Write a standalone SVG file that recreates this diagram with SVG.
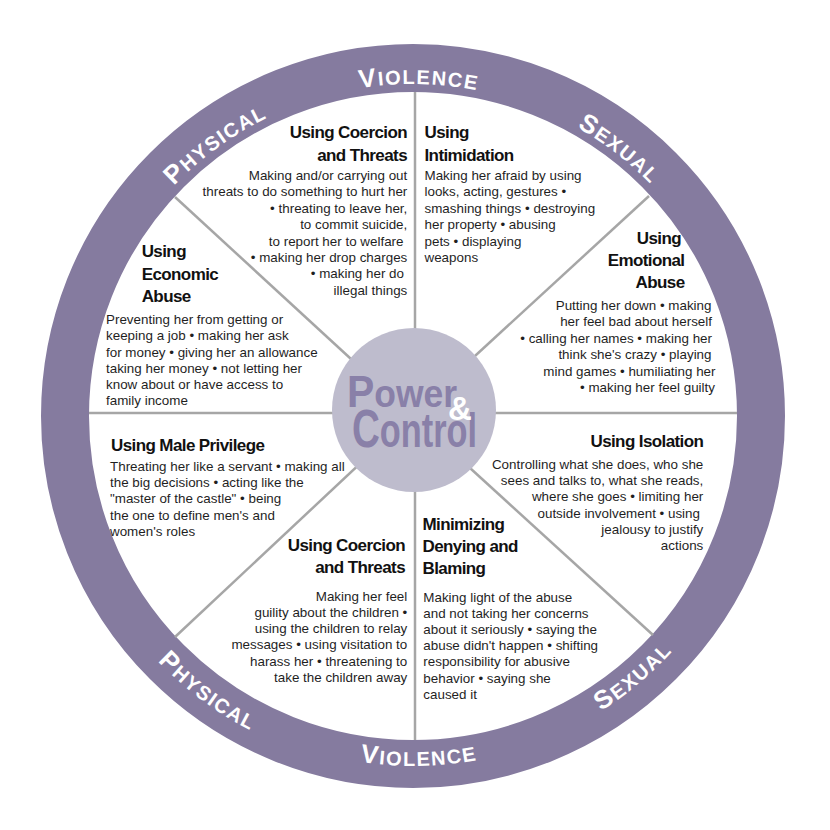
<svg xmlns="http://www.w3.org/2000/svg" width="830" height="830" viewBox="0 0 830 830">
<style>
.t{font-family:"Liberation Sans",Arial,sans-serif;font-weight:bold;font-size:17px;letter-spacing:-0.6px;fill:#111}
.b{font-family:"Liberation Sans",Arial,sans-serif;font-size:13.4px;fill:#1f1f1f}
.e{text-anchor:end}
.rg{font-family:"Liberation Sans",Arial,sans-serif;font-weight:bold;font-size:20px;letter-spacing:1.5px;fill:#fff}
.bg{font-size:26px}
.spk{stroke:#a6a6a6;stroke-width:2.5;fill:none}
.pc{font-family:"Liberation Sans",Arial,sans-serif;font-weight:bold;fill:#8980a8}
</style>
<defs>
<path id="aTopV" d="M204.1,158.0 A332,332 0 0 1 630.8,165.4"/>
<path id="aTopP" d="M90.9,335.7 A332,332 0 0 1 436.2,84.8"/>
<path id="aTopS" d="M399.7,84.3 A332,332 0 0 1 737.4,345.3"/>
<path id="aBotV" d="M192.7,688.0 A350,350 0 0 0 642.6,680.1"/>
<path id="aBotP" d="M68.5,497.4 A354,354 0 0 0 433.4,769.4"/>
<path id="aBotS" d="M414.2,766.0 A350,350 0 0 0 757.9,475.6"/>
</defs>
<rect width="830" height="830" fill="#fff"/>
<g id="ring">
<circle cx="413" cy="416" r="348" fill="none" stroke="#857b9f" stroke-width="48"/>
<text class="rg"><textPath href="#aTopV" startOffset="50%" text-anchor="middle"><tspan class="bg">V</tspan>IOLENCE</textPath></text>
<text class="rg"><textPath href="#aTopP" startOffset="50%" text-anchor="middle"><tspan class="bg">P</tspan>HYSICAL</textPath></text>
<text class="rg"><textPath href="#aTopS" startOffset="50%" text-anchor="middle"><tspan class="bg">S</tspan>EXUAL</textPath></text>
<text class="rg"><textPath href="#aBotV" startOffset="50%" text-anchor="middle"><tspan class="bg">V</tspan>IOLENCE</textPath></text>
<text class="rg"><textPath href="#aBotP" startOffset="50%" text-anchor="middle"><tspan class="bg">P</tspan>HYSICAL</textPath></text>
<text class="rg"><textPath href="#aBotS" startOffset="50%" text-anchor="middle"><tspan class="bg">S</tspan>EXUAL</textPath></text>
</g>
<g id="spokes">
<line class="spk" x1="415" y1="92" x2="415" y2="740"/>
<line class="spk" x1="89" y1="413" x2="737" y2="413"/>
<line class="spk" x1="175" y1="197" x2="413" y2="416"/>
<line class="spk" x1="649" y1="196" x2="413" y2="413"/>
<line class="spk" x1="175" y1="637" x2="413" y2="414"/>
<line class="spk" x1="653" y1="635" x2="413" y2="416"/>
</g>
<g id="center">
<circle cx="414" cy="410" r="82" fill="#bebccd"/>
<text class="pc" x="347" y="407" textLength="110" lengthAdjust="spacingAndGlyphs" font-size="39"><tspan font-size="45">P</tspan>ower</text>
<text class="pc" x="352" y="447" textLength="125" lengthAdjust="spacingAndGlyphs" font-size="48"><tspan font-size="54">C</tspan>ontrol</text>
<text x="448" y="420" font-family="Liberation Sans, Arial, sans-serif" font-weight="bold" font-size="33" fill="#fff">&amp;</text>
</g>
<g id="coercion-threats">
<text class="t e"><tspan x="407" y="138">Using Coercion</tspan><tspan x="407" y="160.5">and Threats</tspan></text>
<text class="b e"><tspan x="407.3" y="180">Making and/or carrying out</tspan><tspan x="407.3" y="196.4">threats to do something to hurt her</tspan><tspan x="407.3" y="212.8">• threating to leave her,</tspan><tspan x="407.3" y="229.2">to commit suicide,</tspan><tspan x="403.5" y="245.6">to report her to welfare</tspan><tspan x="407.3" y="262">• making her drop charges</tspan><tspan x="404" y="278.4">• making her do</tspan><tspan x="407.3" y="294.8">illegal things</tspan></text>
</g>
<g id="intimidation">
<text class="t"><tspan x="424.5" y="138">Using</tspan><tspan x="424.5" y="160.5">Intimidation</tspan></text>
<text class="b"><tspan x="424.5" y="180">Making her afraid by using</tspan><tspan x="424.5" y="196.4">looks, acting, gestures •</tspan><tspan x="424.5" y="212.8">smashing things • destroying</tspan><tspan x="424.5" y="229.2">her property • abusing</tspan><tspan x="424.5" y="245.6">pets • displaying</tspan><tspan x="424.5" y="262">weapons</tspan></text>
</g>
<g id="emotional-abuse">
<text class="t e"><tspan x="681" y="243.5">Using</tspan><tspan x="684.5" y="265.7">Emotional</tspan><tspan x="684.5" y="287.9">Abuse</tspan></text>
<text class="b e"><tspan x="711.5" y="310">Putting her down • making</tspan><tspan x="712" y="326.4">her feel bad about herself</tspan><tspan x="712" y="342.8">• calling her names • making her</tspan><tspan x="711.5" y="359.2">think she's crazy • playing</tspan><tspan x="715.5" y="375.6">mind games • humiliating her</tspan><tspan x="715" y="392">• making her feel guilty</tspan></text>
</g>
<g id="economic-abuse">
<text class="t"><tspan x="141.7" y="257.3">Using</tspan><tspan x="141.7" y="279.5">Economic</tspan><tspan x="141.7" y="301.7">Abuse</tspan></text>
<text class="b"><tspan x="106" y="324.2">Preventing her from getting or</tspan><tspan x="106" y="340.4">keeping a job • making her ask</tspan><tspan x="106" y="356.6">for money • giving her an allowance</tspan><tspan x="106" y="372.8">taking her money • not letting her</tspan><tspan x="106" y="389">know about or have access to</tspan><tspan x="106" y="405.2">family income</tspan></text>
</g>
<g id="male-privilege">
<text class="t" x="111" y="451">Using Male Privilege</text>
<text class="b"><tspan x="110" y="471">Threating her like a servant • making all</tspan><tspan x="110" y="487.2">the big decisions • acting like the</tspan><tspan x="110" y="503.4">"master of the castle" • being</tspan><tspan x="110" y="519.6">the one to define men's and</tspan><tspan x="110" y="535.8">women's roles</tspan></text>
</g>
<g id="isolation">
<text class="t e" x="703.3" y="446.8">Using Isolation</text>
<text class="b e"><tspan x="703.3" y="469">Controlling what she does, who she</tspan><tspan x="703.3" y="485.2">sees and talks to, what she reads,</tspan><tspan x="703.3" y="501.4">where she goes • limiting her</tspan><tspan x="700" y="517.6">outside involvement • using</tspan><tspan x="703.3" y="533.8">jealousy to justify</tspan><tspan x="703.3" y="550">actions</tspan></text>
</g>
<g id="using-children">
<text class="t e"><tspan x="405" y="550.5">Using Coercion</tspan><tspan x="405" y="573">and Threats</tspan></text>
<text class="b e"><tspan x="407.3" y="600.5">Making her feel</tspan><tspan x="407.3" y="616.8">guility about the children •</tspan><tspan x="407.3" y="633">using the children to relay</tspan><tspan x="407.3" y="649.3">messages • using visitation to</tspan><tspan x="407.3" y="665.6">harass her • threatening to</tspan><tspan x="407.3" y="681.8">take the children away</tspan></text>
</g>
<g id="minimizing">
<text class="t"><tspan x="422.5" y="529.5">Minimizing</tspan><tspan x="422.5" y="551.8">Denying and</tspan><tspan x="422.5" y="574.2">Blaming</tspan></text>
<text class="b"><tspan x="423.3" y="601.5">Making light of the abuse</tspan><tspan x="423.3" y="617.8">and not taking her concerns</tspan><tspan x="423.3" y="634">about it seriously • saying the</tspan><tspan x="423.3" y="650.2">abuse didn't happen • shifting</tspan><tspan x="423.3" y="666.4">responsibility for abusive</tspan><tspan x="423.3" y="682.6">behavior • saying she</tspan><tspan x="423.3" y="698.8">caused it</tspan></text>
</g>
</svg>
